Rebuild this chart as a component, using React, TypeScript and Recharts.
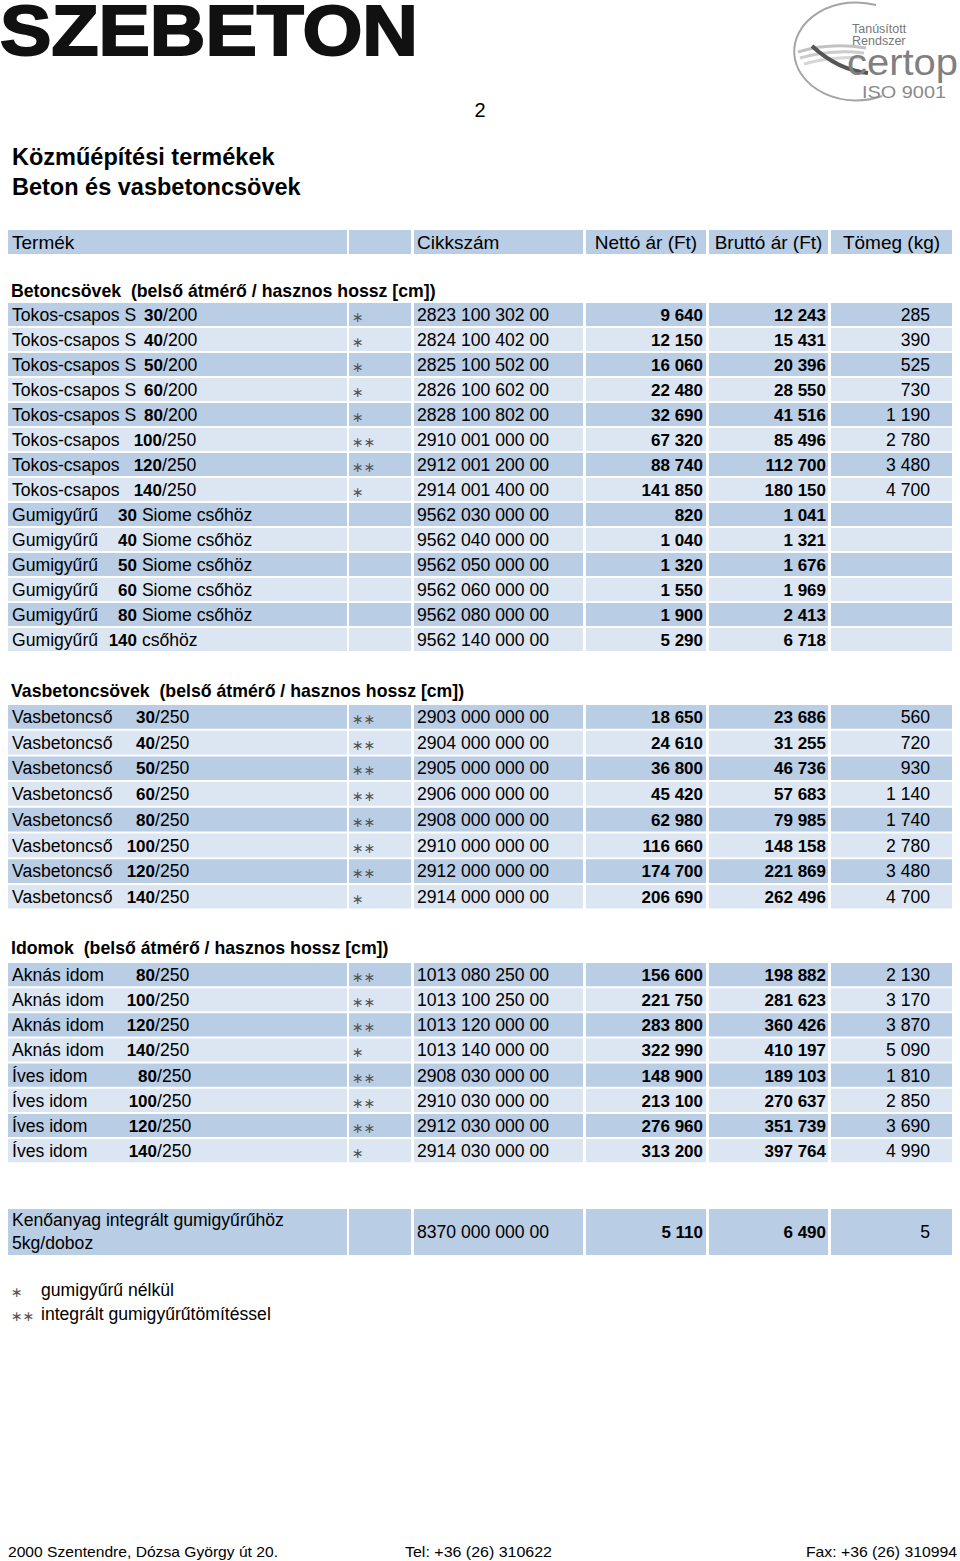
import React from 'react';
import { Surface, Rectangle, Layer } from 'recharts';

// price list data, one small list per column
const headers = ['Termék', '', 'Cikkszám', 'Nettó ár (Ft)', 'Bruttó ár (Ft)', 'Tömeg (kg)'];

const pipeNames = ['Tokos-csapos S', 'Tokos-csapos S', 'Tokos-csapos S', 'Tokos-csapos S', 'Tokos-csapos S', 'Tokos-csapos', 'Tokos-csapos', 'Tokos-csapos', 'Gumigyűrű', 'Gumigyűrű', 'Gumigyűrű', 'Gumigyűrű', 'Gumigyűrű', 'Gumigyűrű'];
const pipeSizes = ['30', '40', '50', '60', '80', '100', '120', '140', '30', '40', '50', '60', '80', '140'];
const pipeSuffix = ['/200', '/200', '/200', '/200', '/200', '/250', '/250', '/250', ' Siome csőhöz', ' Siome csőhöz', ' Siome csőhöz', ' Siome csőhöz', ' Siome csőhöz', ' csőhöz'];
const pipeStars = ['*', '*', '*', '*', '*', '**', '**', '*', '', '', '', '', '', ''];
const pipeCodes = ['2823 100 302 00', '2824 100 402 00', '2825 100 502 00', '2826 100 602 00', '2828 100 802 00', '2910 001 000 00', '2912 001 200 00', '2914 001 400 00', '9562 030 000 00', '9562 040 000 00', '9562 050 000 00', '9562 060 000 00', '9562 080 000 00', '9562 140 000 00'];
const pipeNet = ['9 640', '12 150', '16 060', '22 480', '32 690', '67 320', '88 740', '141 850', '820', '1 040', '1 320', '1 550', '1 900', '5 290'];
const pipeGross = ['12 243', '15 431', '20 396', '28 550', '41 516', '85 496', '112 700', '180 150', '1 041', '1 321', '1 676', '1 969', '2 413', '6 718'];
const pipeWeight = ['285', '390', '525', '730', '1 190', '2 780', '3 480', '4 700', '', '', '', '', '', ''];

const rcNames = ['Vasbetoncső', 'Vasbetoncső', 'Vasbetoncső', 'Vasbetoncső', 'Vasbetoncső', 'Vasbetoncső', 'Vasbetoncső', 'Vasbetoncső'];
const rcSizes = ['30', '40', '50', '60', '80', '100', '120', '140'];
const rcSuffix = ['/250', '/250', '/250', '/250', '/250', '/250', '/250', '/250'];
const rcStars = ['**', '**', '**', '**', '**', '**', '**', '*'];
const rcCodes = ['2903 000 000 00', '2904 000 000 00', '2905 000 000 00', '2906 000 000 00', '2908 000 000 00', '2910 000 000 00', '2912 000 000 00', '2914 000 000 00'];
const rcNet = ['18 650', '24 610', '36 800', '45 420', '62 980', '116 660', '174 700', '206 690'];
const rcGross = ['23 686', '31 255', '46 736', '57 683', '79 985', '148 158', '221 869', '262 496'];
const rcWeight = ['560', '720', '930', '1 140', '1 740', '2 780', '3 480', '4 700'];

const fitNames = ['Aknás idom', 'Aknás idom', 'Aknás idom', 'Aknás idom', 'Íves idom', 'Íves idom', 'Íves idom', 'Íves idom'];
const fitSizes = ['80', '100', '120', '140', '80', '100', '120', '140'];
const fitSuffix = ['/250', '/250', '/250', '/250', '/250', '/250', '/250', '/250'];
const fitStars = ['**', '**', '**', '*', '**', '**', '**', '*'];
const fitCodes = ['1013 080 250 00', '1013 100 250 00', '1013 120 000 00', '1013 140 000 00', '2908 030 000 00', '2910 030 000 00', '2912 030 000 00', '2914 030 000 00'];
const fitNet = ['156 600', '221 750', '283 800', '322 990', '148 900', '213 100', '276 960', '313 200'];
const fitGross = ['198 882', '281 623', '360 426', '410 197', '189 103', '270 637', '351 739', '397 764'];
const fitWeight = ['2 130', '3 170', '3 870', '5 090', '1 810', '2 850', '3 690', '4 990'];

const lubeName = ['Kenőanyag integrált gumigyűrűhöz', '5kg/doboz'];
const lubeCode = '8370 000 000 00';
const lubeNet = '5 110';
const lubeGross = '6 490';
const lubeWeight = '5';

const legendMarks = ['*', '**'];
const legendTexts = ['gumigyűrű nélkül', 'integrált gumigyűrűtömítéssel'];

const footer = ['2000 Szentendre, Dózsa György út 20.', 'Tel: +36 (26) 310622', 'Fax: +36 (26) 310994'];

// layout
const W = 960;
const H = 1561;
const DARK = '#b9cde5';
const LIGHT = '#dce6f2';
const FONT = '"Liberation Sans", Arial, sans-serif';
const BODY = 17.6;
const NUM = 17;
const COLS = [
  { x: 8, w: 339 },
  { x: 349, w: 62 },
  { x: 414, w: 169 },
  { x: 586, w: 120 },
  { x: 709, w: 119 },
  { x: 831, w: 121 },
];
const NUM_EDGE: Record<string, number> = {
  'Tokos-csapos S': 163,
  'Tokos-csapos': 162,
  'Gumigyűrű': 137,
  'Vasbetoncső': 155,
  'Aknás idom': 155,
  'Íves idom': 157,
};

interface Section {
  title: string;
  titleY: number;
  firstY: number;
  step: number;
  names: string[];
  sizes: string[];
  suffix: string[];
  stars: string[];
  codes: string[];
  net: string[];
  gross: string[];
  weight: string[];
}

const sections: Section[] = [
  { title: 'Betoncsövek  (belső átmérő / hasznos hossz [cm])', titleY: 291, firstY: 315, step: 25, names: pipeNames, sizes: pipeSizes, suffix: pipeSuffix, stars: pipeStars, codes: pipeCodes, net: pipeNet, gross: pipeGross, weight: pipeWeight },
  { title: 'Vasbetoncsövek  (belső átmérő / hasznos hossz [cm])', titleY: 691, firstY: 717, step: 25.7, names: rcNames, sizes: rcSizes, suffix: rcSuffix, stars: rcStars, codes: rcCodes, net: rcNet, gross: rcGross, weight: rcWeight },
  { title: 'Idomok  (belső átmérő / hasznos hossz [cm])', titleY: 948, firstY: 975, step: 25.15, names: fitNames, sizes: fitSizes, suffix: fitSuffix, stars: fitStars, codes: fitCodes, net: fitNet, gross: fitGross, weight: fitWeight },
];

function Cells({ top, height, fill }: { top: number; height: number; fill: string }) {
  return (
    <Layer>
      {COLS.map((c, i) => (
        <Rectangle key={i} x={c.x} y={top} width={c.w} height={height} fill={fill} />
      ))}
    </Layer>
  );
}

function Star({ x, cy, mark }: { x: number; cy: number; mark: string }) {
  return (
    <text x={x} y={cy + 7} fontFamily='"DejaVu Sans", sans-serif' fontSize={14} fill="#555">
      {mark === '**' ? '∗∗' : mark ? '∗' : ''}
    </text>
  );
}

function Row({ s, i }: { s: Section; i: number }) {
  const cy = s.firstY + i * s.step;
  const fill = i % 2 === 0 ? DARK : LIGHT;
  const edge = NUM_EDGE[s.names[i]];
  const base = cy + 6;
  return (
    <Layer>
      <Cells top={cy - 12} height={s.step - 2} fill={fill} />
      <text x={12} y={base} fontSize={BODY}>{s.names[i]}</text>
      <text x={edge} y={base} fontSize={NUM} fontWeight="bold" textAnchor="end">{s.sizes[i]}</text>
      <text x={edge} y={base} fontSize={BODY} style={{ whiteSpace: 'pre' }}>{s.suffix[i]}</text>
      <Star x={352} cy={cy} mark={s.stars[i]} />
      <text x={417} y={base} fontSize={BODY}>{s.codes[i]}</text>
      <text x={703} y={base} fontSize={NUM} fontWeight="bold" textAnchor="end">{s.net[i]}</text>
      <text x={826} y={base} fontSize={NUM} fontWeight="bold" textAnchor="end">{s.gross[i]}</text>
      <text x={930} y={base} fontSize={BODY} textAnchor="end">{s.weight[i]}</text>
    </Layer>
  );
}

function Logos() {
  return (
    <Layer>
      <text x={0} y={55} fontSize={70} fontWeight="bold" fill="#111" stroke="#111" strokeWidth={2}
        textLength={418} lengthAdjust="spacingAndGlyphs">SZEBETON</text>
      <path d="M 876 5 A 62 49 0 1 0 882 96" fill="none" stroke="#a5a5a5" strokeWidth={2} />
      <path d="M 798 52 Q 830 42 866 48" fill="none" stroke="#c2c2c2" strokeWidth={3} />
      <path d="M 800 58 Q 832 49 864 53" fill="none" stroke="#cccccc" strokeWidth={3} />
      <path d="M 804 64 Q 834 56 862 58" fill="none" stroke="#d6d6d6" strokeWidth={3} />
      <path d="M 812 46 Q 838 70 868 73" fill="none" stroke="#555" strokeWidth={4} />
      <text x={852} y={33} fontSize={12.5} fill="#777">Tanúsított</text>
      <text x={852} y={45} fontSize={12.5} fill="#777">Rendszer</text>
      <text x={847} y={75} fontSize={36} fill="#808080" textLength={111} lengthAdjust="spacingAndGlyphs">certop</text>
      <text x={862} y={98} fontSize={17} fill="#8a8a8a" textLength={84} lengthAdjust="spacingAndGlyphs">ISO 9001</text>
    </Layer>
  );
}

export default function App() {
  const lubeTop = 1209;
  return (
    <div style={{ position: 'absolute', left: 0, top: 0, width: W, height: H, background: '#fff' }}>
      <Surface width={W} height={H}>
        <g fontFamily={FONT} fill="#000">
          <Logos />
          <text x={480} y={117} fontSize={20} textAnchor="middle">2</text>
          <text x={12} y={165} fontSize={23.5} fontWeight="bold">Közműépítési termékek</text>
          <text x={12} y={195} fontSize={23.5} fontWeight="bold">Beton és vasbetoncsövek</text>

          <Cells top={230} height={24} fill={DARK} />
          {headers.map((h, i) => (
            <text key={i} x={i === 0 ? 12 : i === 2 ? 417 : COLS[i].x + COLS[i].w / 2} y={249} fontSize={19}
              textAnchor={i === 0 || i === 2 ? 'start' : 'middle'}>{h}</text>
          ))}

          {sections.map((s, si) => (
            <Layer key={si}>
              <text x={11} y={s.titleY + 6} fontSize={17.7} fontWeight="bold" style={{ whiteSpace: 'pre' }}>{s.title}</text>
              {s.names.map((_, i) => <Row key={i} s={s} i={i} />)}
            </Layer>
          ))}

          <Cells top={lubeTop} height={46} fill={DARK} />
          {lubeName.map((t, i) => (
            <text key={i} x={12} y={1226 + i * 23} fontSize={BODY}>{t}</text>
          ))}
          <text x={417} y={1238} fontSize={BODY}>{lubeCode}</text>
          <text x={703} y={1238} fontSize={NUM} fontWeight="bold" textAnchor="end">{lubeNet}</text>
          <text x={826} y={1238} fontSize={NUM} fontWeight="bold" textAnchor="end">{lubeGross}</text>
          <text x={930} y={1238} fontSize={BODY} textAnchor="end">{lubeWeight}</text>

          {legendTexts.map((t, i) => (
            <Layer key={i}>
              <Star x={11} cy={1290 + i * 24} mark={legendMarks[i]} />
              <text x={41} y={1296 + i * 24} fontSize={BODY}>{t}</text>
            </Layer>
          ))}

          <text x={8} y={1557} fontSize={15} fontFamily='"Liberation Sans Narrow", "Liberation Sans", sans-serif'
            textLength={270} lengthAdjust="spacingAndGlyphs">{footer[0]}</text>
          <text x={405} y={1557} fontSize={15} fontFamily='"Liberation Sans Narrow", "Liberation Sans", sans-serif'
            textLength={147} lengthAdjust="spacingAndGlyphs">{footer[1]}</text>
          <text x={806} y={1557} fontSize={15} fontFamily='"Liberation Sans Narrow", "Liberation Sans", sans-serif'
            textLength={151} lengthAdjust="spacingAndGlyphs">{footer[2]}</text>
        </g>
      </Surface>
    </div>
  );
}
